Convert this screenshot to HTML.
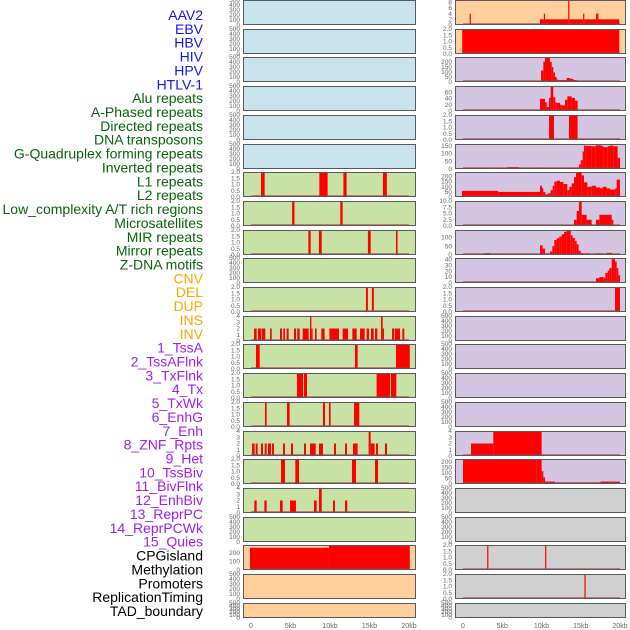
<!DOCTYPE html>
<html><head><meta charset="utf-8"><style>
html,body{margin:0;padding:0;background:#fff;}
svg{display:block;font-family:"Liberation Sans",sans-serif;}
</style></head><body>
<svg id="chart" width="630" height="630" viewBox="0 0 630 630"></svg>
<script>
// ---------- labels ----------
const trackLabels = ["AAV2","EBV","HBV","HIV","HPV","HTLV-1","Alu repeats","A-Phased repeats","Directed repeats","DNA transposons","G-Quadruplex forming repeats","Inverted repeats","L1 repeats","L2 repeats","Low_complexity A/T rich regions","Microsatellites","MIR repeats","Mirror repeats","Z-DNA motifs","CNV","DEL","DUP","INS","INV","1_TssA","2_TssAFlnk","3_TxFlnk","4_Tx","5_TxWk","6_EnhG","7_Enh","8_ZNF_Rpts","9_Het","10_TssBiv","11_BivFlnk","12_EnhBiv","13_ReprPC","14_ReprPCWk","15_Quies","CPGisland","Methylation","Promoters","ReplicationTiming","TAD_boundary"];
const labelGroups = [6,13,5,15,5];
const labelColors = ["#1515ee","#0a640a","#ffa500","#a020f0","#000000"];

// ---------- x axis ----------
const xTickValues = [0,5,10,15,20];
const xTickLabels = ["0","5kb","10kb","15kb","20kb"];

// ---------- tick sets ----------
const tEmpty = ["0","100","200","300","400","500"];
const t2 = ["0.0","0.5","1.0","1.5","2.0"];
const t4 = ["0","1","2","3","4"];
const t8 = ["0","2","4","6","8"];
const t200 = ["0","50","100","150","200"];
const t150 = ["0","50","100","150"];
const t100 = ["0","50","100"];
const t60 = ["0","20","40","60"];
const t40 = ["0","10","20","30","40"];
const t10 = ["0.0","2.5","5.0","7.5","10.0"];
const tCpg = ["0","100","200"];

// ---------- middle column data: [startKb, endKb, value] ----------
const midL1 = [[1.27,1.73,2],[8.65,9.7,2],[11.7,12.1,2],[16.7,17.2,2]];
const midL2 = [[5.2,5.5,2],[11.3,11.6,2]];
const midLow = [[7.26,7.55,2],[8.6,8.95,2],[14.8,15.15,2],[18.35,18.55,2]];
const midMir = [[14.55,14.8,2],[15.3,15.55,2]];
const midZdna = [[.38,.72,2],[.89,1.31,2],[1.39,1.81,2],[2.41,2.62,2],[3.67,3.92,2],[4.09,4.3,2],[4.51,4.77,2],[5.44,5.7,2],[5.86,6.16,2],[6.54,7.3,2],[7.47,7.64,4],[7.64,7.8,2],[8.1,8.31,2],[8.9,9.32,2],[9.92,11.14,2],[11.6,12.28,2],[12.83,13.38,2],[13.8,14.39,2],[14.64,14.94,2],[15.19,15.53,2],[15.7,15.99,2],[16.46,16.67,4],[16.67,16.84,2],[17.85,18.14,2],[18.23,18.86,2],[19.16,19.41,2]];
const midDel = [[.63,1.1,2],[13.16,13.5,2],[18.35,20.1,2]];
const midDup = [[5.82,6.58,2],[6.7,7.09,2],[15.9,17.6,2],[17.72,18.4,2]];
const midIns = [[1.77,1.98,2],[4.56,4.89,2],[9.11,9.37,2],[9.87,10.08,2],[13.04,13.71,2]];
const midInv = [[.13,.46,2],[.59,.84,2],[1.27,1.52,2],[1.73,1.98,2],[2.15,2.53,2],[2.66,2.91,2],[4.05,4.3,2],[5.06,5.32,2],[6.71,6.96,2],[7.47,8.19,2],[8.61,9.11,2],[10.51,10.76,2],[11.9,12.15,2],[12.91,13.5,2],[14.89,15.15,4],[15.15,15.65,2],[15.82,16.08,2],[16.96,17.22,2]];
const midTssA = [[3.8,4.3,2],[5.61,6.08,2],[12.78,13.29,2],[15.7,16.08,2]];
const midTssAFlnk = [[.42,.72,2],[1.69,1.98,2],[3.67,4.01,2],[4.94,5.7,2],[7.97,8.31,2],[8.61,8.95,4],[10.38,10.63,2],[11.9,12.19,2]];
const midCpg = [[-0.13,9.87,258],[9.87,20.1,290]];

// ---------- right column data ----------
const rAav2 = [[.85,1.0,4],[9.8,10.3,2],[10.3,10.45,4],[10.45,13.4,2],[13.4,13.55,8.8],[13.55,15.3,2],[15.3,15.45,4],[15.45,16.95,2],[16.95,17.05,4],[17.05,17.1,2],[17.1,17.2,4],[17.2,19.9,2]];
const rEbv = [[-0.1,19.9,2]];
const rHiv = [[9.94,10.23,114],[10.23,10.45,204],[10.45,11.08,250],[11.08,11.3,200],[11.3,11.5,150],[11.5,11.72,96],[11.72,11.93,50],[11.93,12.14,25],[12.14,13.2,18],[13.2,13.63,40],[13.63,14.05,32],[14.05,14.48,20],[14.48,14.99,10]];
const rAlu = [[9.8,10.45,39],[10.45,10.66,28],[10.66,10.96,13],[10.96,11.17,42],[11.17,11.5,78],[11.5,11.76,44],[11.76,11.93,28],[11.93,12.36,26],[12.36,12.57,20],[12.57,12.99,18],[12.99,13.29,36],[13.29,13.84,47],[13.84,14.27,42],[14.27,14.61,33]];
const rHpv = [[10.96,11.59,2],[13.5,14.6,2]];
const rAPhased = [[5.65,7.13,11],[9.17,10.02,7],[13.93,14.78,7],[14.78,14.99,29],[14.99,15.24,56],[15.24,15.41,112],[15.41,15.63,150],[15.63,16.39,148],[16.39,16.9,145],[16.9,17.58,152],[17.58,17.88,148],[17.88,18.43,140],[18.43,18.73,146],[18.73,19.15,150],[19.15,19.7,145],[19.7,20,72]];
const rDirected = [[-0.13,4.5,59],[4.5,9.81,49],[9.81,10.06,108],[10.06,10.23,85],[10.23,10.49,49],[10.49,10.87,26],[10.87,11.17,36],[11.17,11.42,66],[11.42,11.63,108],[11.63,11.93,148],[11.93,12.36,157],[12.36,12.78,144],[12.78,13.29,125],[13.29,13.55,66],[13.55,13.84,98],[13.84,14.14,131],[14.14,14.39,190],[14.39,15.12,233],[15.12,15.41,207],[15.41,15.84,141],[15.84,16.39,98],[16.39,16.94,108],[16.94,17.45,92],[17.45,17.79,85],[17.79,18.3,98],[18.3,18.73,82],[18.73,19.41,72],[19.41,19.58,85],[19.58,20,167]];
const rDna = [[14.14,14.48,2.5],[14.48,14.78,6],[14.78,15.12,10],[15.12,15.75,4.5],[15.75,16.39,2.5],[16.94,17.37,2.5],[17.37,18.94,4.5],[18.94,19.15,2.5]];
const rGquad = [[2.72,3.44,10],[3.44,5.48,6],[7.77,8.2,6],[9.81,10.15,54],[10.15,10.45,36],[10.74,11.08,8],[11.08,11.38,20],[11.38,11.63,50],[11.63,11.93,84],[11.93,12.27,94],[12.27,12.57,104],[12.57,12.87,116],[12.87,13.21,130],[13.21,13.72,144],[13.72,13.97,110],[13.97,14.23,96],[14.23,14.48,80],[14.48,14.73,60],[14.73,14.99,24],[14.99,15.33,10],[15.54,16.09,8],[16.94,17.79,8],[18.3,18.94,12]];
const rInverted = [[16.94,17.37,8],[17.37,17.88,10],[17.88,18.13,9],[18.13,18.43,17],[18.43,18.64,21],[18.64,18.94,25],[18.94,19.36,40],[19.36,19.58,36],[19.58,19.79,25],[19.79,20,13]];
const rL1 = [[19.36,20,2]];
const rMirror = [[1.02,3.86,2],[3.86,10.02,4]];
const rZdna = [[0,7.26,220],[7.26,9.38,225],[9.38,10.02,220],[10.02,10.23,115],[10.23,10.45,60],[10.45,11.72,22],[11.72,13.42,12],[13.5,17.54,12],[17.54,20,22]];
const rTssBiv = [[3.08,3.22,2],[10.46,10.6,2]];
const rBivFlnk = [[15.47,15.61,2]];

// ---------- panel specs: [data, ticks, ymax, bgKey] ----------
const bgColors = {b:"#c8e3eb",g:"#c8e1a5",o:"#ffd09c",p:"#d4c6e2",y:"#d0d0d0"};
const midPanels = [
 [null,tEmpty,500,"b"],[null,tEmpty,500,"b"],[null,tEmpty,500,"b"],[null,tEmpty,500,"b"],[null,tEmpty,500,"b"],[null,tEmpty,500,"b"],
 [midL1,t2,2,"g"],[midL2,t2,2,"g"],[midLow,t2,2,"g"],[null,tEmpty,500,"g"],[midMir,t2,2,"g"],[midZdna,t4,4,"g"],
 [midDel,t2,2,"g"],[midDup,t2,2,"g"],[midIns,t2,2,"g"],[midInv,t4,4,"g"],[midTssA,t2,2,"g"],[midTssAFlnk,t4,4,"g"],
 [null,tEmpty,500,"g"],[midCpg,tCpg,290,"o"],[null,tEmpty,500,"o"],[null,tEmpty,500,"o"]
];
const rightPanels = [
 [rAav2,t8,8.8,"o"],[rEbv,t2,2,"o"],[rHiv,t200,250,"p"],[rAlu,t60,80,"p"],[rHpv,t2,2,"p"],[rAPhased,t150,160,"p"],
 [rDirected,t200,240,"p"],[rDna,t10,10,"p"],[rGquad,t100,140,"p"],[rInverted,t40,42,"p"],[rL1,t2,2,"p"],
 [null,tEmpty,500,"p"],[null,tEmpty,500,"p"],[null,tEmpty,500,"p"],[null,tEmpty,500,"p"],
 [rMirror,t4,4,"p"],[rZdna,t200,225,"p"],[null,tEmpty,500,"y"],[null,tEmpty,500,"y"],
 [rTssBiv,t2,2,"y"],[rBivFlnk,t2,2,"y"],[null,tEmpty,500,"y"]
];

// ---------- rendering ----------
const NS = "http://www.w3.org/2000/svg";
const svg = document.getElementById("chart");
function mk(tag, attrs, parent){
  const e = document.createElementNS(NS, tag);
  for (const k in attrs) e.setAttribute(k, attrs[k]);
  (parent||svg).appendChild(e);
  return e;
}
const cols = [
  {panels: midPanels, left: 243, right: 416, x0: 251, pxPerKb: 7.9, name: "mid"},
  {panels: rightPanels, left: 455, right: 626, x0: 463, pxPerKb: 7.85, name: "right"}
];
function rowTop(i){ return Math.round(i*28.7); }
function rowH(i){ return i === 21 ? 15 : 25; }

cols.forEach(col => {
  const xs = kb => col.x0 + kb*col.pxPerKb;
  col.panels.forEach((p, i) => {
    const [data, ticks, ymax, bg] = p;
    const top = rowTop(i), h = rowH(i), bot = top + h;
    const ys = v => bot - v/ymax*h;
    const g = mk("g", {});
    
    
    const r = mk("rect", {x: col.left, y: top, width: col.right-col.left, height: h, fill: bgColors[bg]}, g);
    
    
    // ticks
    const n = ticks.length;
    ticks.forEach((t, k) => {
      const v = k/(n-1)*ymax*(ticks === tEmpty || ticks === t2 || ticks === t4 || ticks === t8 || ticks===t10 ? 1 : 1);
      const val = parseFloat(t);
      const ty = ys(val);
      const tx = mk("text", {x: col.left-3, y: ty+2.2, "text-anchor": "end", "font-size": 6.5, fill: "#666"}, g);
      tx.textContent = t;
      
      
    });
    if (data) {
      data.forEach(s => {
        const x1 = xs(Math.max(s[0], -0.2)), x2 = xs(s[1]);
        const y1 = ys(Math.min(s[2], ymax));
        const b = mk("rect", {x: x1, y: y1, width: Math.max(x2-x1, 1.2), height: bot-y1, fill: "#ff0000"}, g);
        
        
      });
      const bl = mk("rect", {x: xs(0), y: bot-2, width: xs(20)-xs(0), height: 1.6, fill: "#b43232", opacity: 0.55}, g);
      
      
    }
    const fr = mk("rect", {x: col.left+0.5, y: top+0.5, width: col.right-col.left-1, height: h-1, fill: "none", stroke: "#5a5a5a", "stroke-width": 1}, g);
    
    
  });
  // x axis labels
  xTickValues.forEach((v, k) => {
    const t = mk("text", {x: xs(v), y: 628, "text-anchor": "middle", "font-size": 7, fill: "#666"});
    t.textContent = xTickLabels[k];
    
    
  });
});

// track labels
let idx = 0;
labelGroups.forEach((cnt, gi) => {
  for (let k = 0; k < cnt; k++, idx++) {
    const t = mk("text", {x: 203, y: 15 + idx*13.86 + 5, "text-anchor": "end", "font-size": 14, fill: labelColors[gi]});
    t.textContent = trackLabels[idx];
    
    
  }
});
</script>
</body></html>
